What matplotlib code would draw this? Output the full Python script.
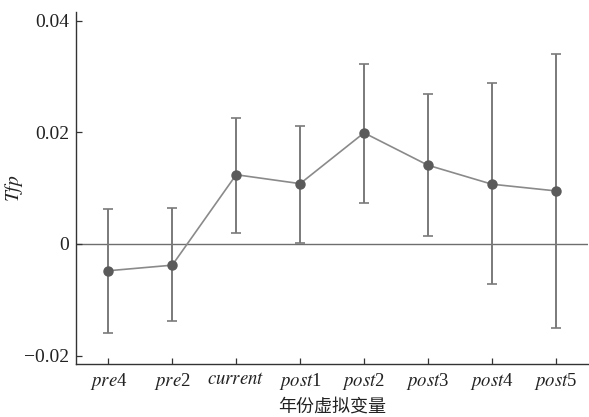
import matplotlib
matplotlib.use("Agg")
import matplotlib.pyplot as plt
import numpy as np

categories = ["pre", "pre", "current", "post", "post", "post", "post", "post"]
suffixes = ["4", "2", "", "1", "2", "3", "4", "5"]
coef = [-0.0048, -0.0038, 0.0124, 0.0108, 0.0199, 0.0141, 0.0107, 0.0095]
ci_low = [-0.0159, -0.0138, 0.0020, 0.0002, 0.0074, 0.0014, -0.0072, -0.0151]
ci_high = [0.0062, 0.0064, 0.0225, 0.0212, 0.0323, 0.0269, 0.0288, 0.0341]
yticks = [-0.02, 0, 0.02, 0.04]
ytick_labels = ["\u22120.02", "0", "0.02", "0.04"]

plt.rcParams['font.family'] = ['Liberation Serif', 'Noto Sans CJK SC']
plt.rcParams['mathtext.fontset'] = 'stix'

fig = plt.figure(figsize=(5.89, 4.17), dpi=100)
ax = fig.add_axes([0.1296, 0.1271, 0.8684, 0.8449])

x = np.arange(len(coef))
coef_a = np.array(coef)
yerr = np.vstack([coef_a - np.array(ci_low), np.array(ci_high) - coef_a])

ax.axhline(0, color="#6e6e6e", lw=1.0, zorder=1)
ax.errorbar(x, coef_a, yerr=yerr, fmt='none', ecolor="#7a7a7a", elinewidth=1.4,
            capsize=3.5, capthick=1.2, zorder=2)
ax.plot(x, coef_a, color="#8a8a8a", lw=1.2, marker='o', markersize=6.5,
        markerfacecolor="#5a5a5a", markeredgecolor="#5a5a5a", zorder=3)

ax.set_xlim(-0.5, 7.5)
ax.set_ylim(-0.0215, 0.0416)
ax.set_yticks(yticks)
ax.set_yticklabels(ytick_labels)
ax.set_xticks(x)
labels = [r"$\mathit{%s}$%s" % (c, s) for c, s in zip(categories, suffixes)]
ax.set_xticklabels(labels)

for side in ["top", "right"]:
    ax.spines[side].set_visible(False)
for side in ["left", "bottom"]:
    ax.spines[side].set_color("#333333")
    ax.spines[side].set_linewidth(1.0)

ax.tick_params(direction='in', length=4, width=0.9, color="#333333",
               labelsize=14, labelcolor="#222222", pad=5)
ax.tick_params(axis='x', labelsize=13.5)

ax.set_ylabel(r"$\mathit{Tfp}$", fontsize=14, color="#222222")
ax.yaxis.set_label_coords(-0.100, 0.5)
ax.set_xlabel("年份虚拟变量", fontsize=13, color="#222222", labelpad=4,
              family=['Noto Sans CJK SC'])

fig.savefig("out.png", dpi=100)
